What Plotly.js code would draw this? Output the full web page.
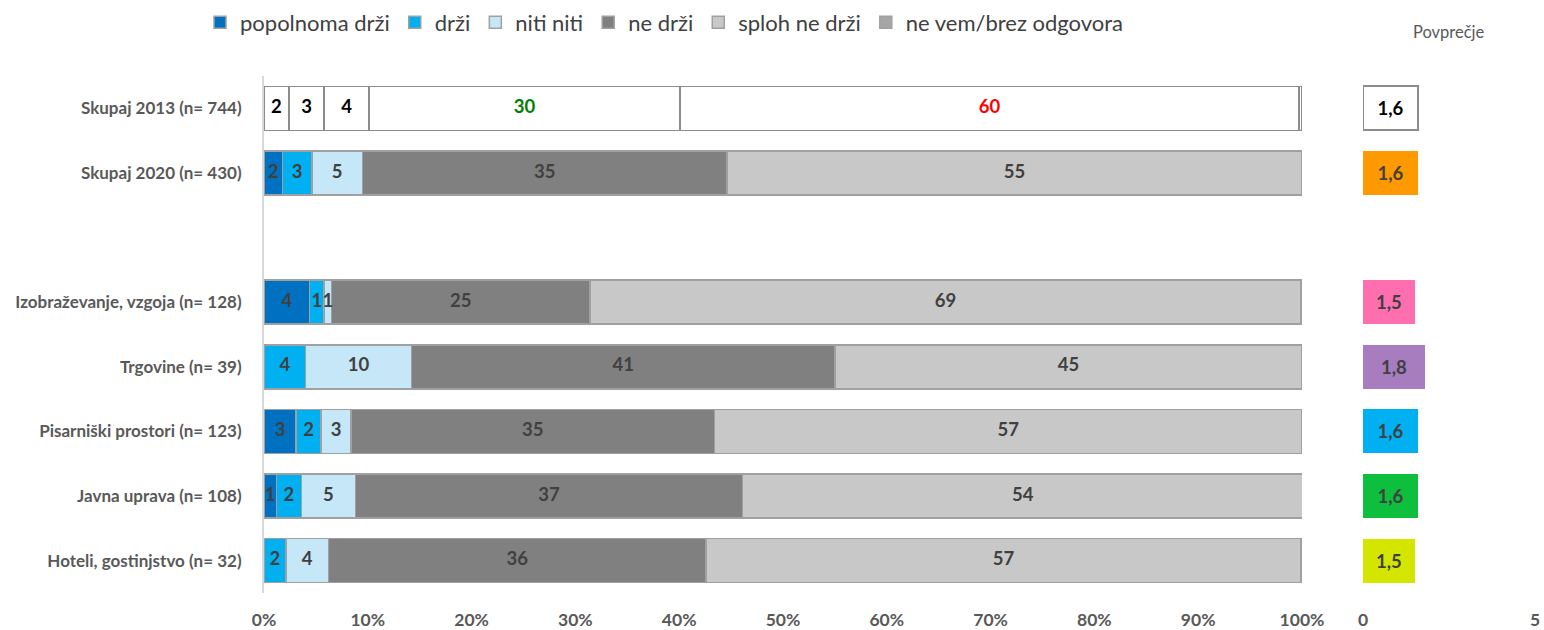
<!DOCTYPE html>
<html>
<head>
<meta charset="utf-8">
<script src="https://cdn.plot.ly/plotly-3.0.1.min.js"></script>
<style>html,body{margin:0;padding:0;background:#fff;}#chart{width:1544px;height:630px;}</style>
</head>
<body>
<div id="chart"></div>
<script>
const categories = ['Skupaj 2013 (n= 744)','Skupaj 2020 (n= 430)',' ','Izobraževanje, vzgoja (n= 128)','Trgovine (n= 39)','Pisarniški prostori (n= 123)','Javna uprava (n= 108)','Hoteli, gostinjstvo (n= 32)'];
const seriesNames = ['popolnoma drži','drži','niti niti','ne drži','sploh ne drži','ne vem/brez odgovora'];
const popolnomaDrzi = [2.4, 1.8, null, 4.4, 0, 3.1, 1.2, 0];
const drzi          = [3.4, 2.8, null, 1.4, 4.0, 2.4, 2.4, 2.1];
const nitiNiti      = [4.3, 4.9, null, 0.7, 10.2, 2.9, 5.2, 4.1];
const neDrzi        = [30.0, 35.1, null, 24.9, 40.8, 35.0, 37.3, 36.4];
const splohNeDrzi   = [59.6, 55.4, null, 68.5, 45.0, 56.6, 54.0, 57.3];
const neVem         = [0.3, 0, null, 0, 0, 0, 0, 0];
const povprecje     = [1.6, 1.6, null, 1.5, 1.8, 1.6, 1.6, 1.5];
const xTickVals = [0,10,20,30,40,50,60,70,80,90,100];
const xTickText = ['0%','10%','20%','30%','40%','50%','60%','70%','80%','90%','100%'];

const seriesColors = ['#0070C0','#00B0F0','#C5E7F8','#808080','#C8C8C8','#A6A6A6'];
const avgColors = ['#FFFFFF','#FF9900','rgba(0,0,0,0)','#FF6FAF','#A87DC0','#00B0F0','#0DBF3C','#D4E600'];
const row2013Text = ['#000000','#000000','#000000','#008000','#FF0000','#000000'];

const FONT = 'Lato, "Open Sans", sans-serif';
const allSeries = [popolnomaDrzi, drzi, nitiNiti, neDrzi, splohNeDrzi, neVem];
const barTraces = [], textTraces = [];
const cum = categories.map(() => 0);
allSeries.forEach((vals, si) => {
  barTraces.push({
    type: 'bar', orientation: 'h', name: seriesNames[si],
    x: vals.slice(1), y: categories.slice(1), xaxis: 'x', yaxis: 'y',
    marker: {color: seriesColors[si], line: {color: '#A0A0A0', width: 1.5}},
    hoverinfo: 'skip'
  });
  barTraces.push({
    type: 'bar', orientation: 'h', name: seriesNames[si] + ' 2013', showlegend: false,
    x: vals.slice(0, 1), y: categories.slice(0, 1), xaxis: 'x', yaxis: 'y',
    marker: {color: '#FFFFFF', line: {color: '#8C8C8C', width: 1.5}},
    hoverinfo: 'skip'
  });
  const tx = [], tt = [], tc = [];
  vals.forEach((v, i) => {
    const val = v || 0;
    tx.push(cum[i] + val / 2);
    tt.push(val >= 0.5 && si < 5 ? String(Math.round(val)) : '');
    tc.push(i === 0 ? row2013Text[si] : '#404040');
    cum[i] += val;
  });
  textTraces.push({
    type: 'scatter', mode: 'text', x: tx, y: categories, text: tt,
    xaxis: 'x', yaxis: 'y', showlegend: false, hoverinfo: 'skip', cliponaxis: false,
    textfont: {family: FONT, size: 18.5, color: tc, weight: 'bold'}
  });
});

const avgTrace = {
  type: 'bar', orientation: 'h', x: povprecje, y: categories, xaxis: 'x2', yaxis: 'y2',
  showlegend: false, hoverinfo: 'skip',
  marker: {color: avgColors, line: {color: categories.map((c,i)=> i===0 ? '#8C8C8C' : 'rgba(0,0,0,0)'), width: categories.map((c,i)=> i===0 ? 2 : 0)}},
  texttemplate: '%{x:.1f}', textposition: 'inside', insidetextanchor: 'middle', textangle: 0,
  textfont: {family: FONT, size: 18.5, weight: 'bold', color: categories.map((c,i)=> i===0 ? '#000000' : '#404040')}
};

const W = 1544, H = 630, T = 75.6, B = 36.6;
const layout = {
  width: W, height: H, paper_bgcolor: '#fff', plot_bgcolor: '#fff',
  margin: {l: 0, r: 0, t: T, b: B, pad: 0},
  barmode: 'stack', bargap: 0.32, separators: ',.',
  font: {family: FONT, color: '#595959'},
  showlegend: true,
  legend: {orientation: 'h', x: 200/W, xanchor: 'left', y: 1 + (T - 1)/(H - T - B), yanchor: 'top',
           font: {family: FONT, size: 22, color: '#404040'}, traceorder: 'normal', itemwidth: 30, tracegroupgap: 0},
  xaxis: {domain: [264/W, 1302/W], range: [0, 100], tickvals: xTickVals, ticktext: xTickText,
          showgrid: false, zeroline: false, showline: false, ticks: '', ticklabelstandoff: 14,
          tickfont: {family: FONT, size: 17.5, color: '#595959', weight: 'bold'}, fixedrange: true},
  yaxis: {type: 'category', categoryorder: 'array', categoryarray: categories, autorange: 'reversed',
          showgrid: false, zeroline: false, showline: true, linecolor: '#D9D9D9', linewidth: 2,
          ticks: '', ticklabelstandoff: 17, tickfont: {family: FONT, size: 17, color: '#595959', weight: 'bold'}},
  xaxis2: {domain: [1363/W, 1535/W], range: [0, 5], tickvals: [0, 5], ticktext: ['0','5'], anchor: 'y2',
           showgrid: false, zeroline: false, showline: false, ticks: '', ticklabelstandoff: 14,
           tickfont: {family: FONT, size: 17.5, color: '#595959', weight: 'bold'}},
  yaxis2: {anchor: 'x2', matches: 'y', type: 'category', showticklabels: false, showgrid: false, zeroline: false, showline: false},
  annotations: [{text: 'Povprečje', xref: 'paper', yref: 'paper', x: 1449/W, y: 1 + (T - 32)/(H - T - B),
                 xanchor: 'center', yanchor: 'middle', showarrow: false, font: {family: FONT, size: 16.5, color: '#595959'}}]
};
Plotly.newPlot('chart', barTraces.concat(textTraces, [avgTrace]), layout, {staticPlot: true, displayModeBar: false});
</script>
</body>
</html>
